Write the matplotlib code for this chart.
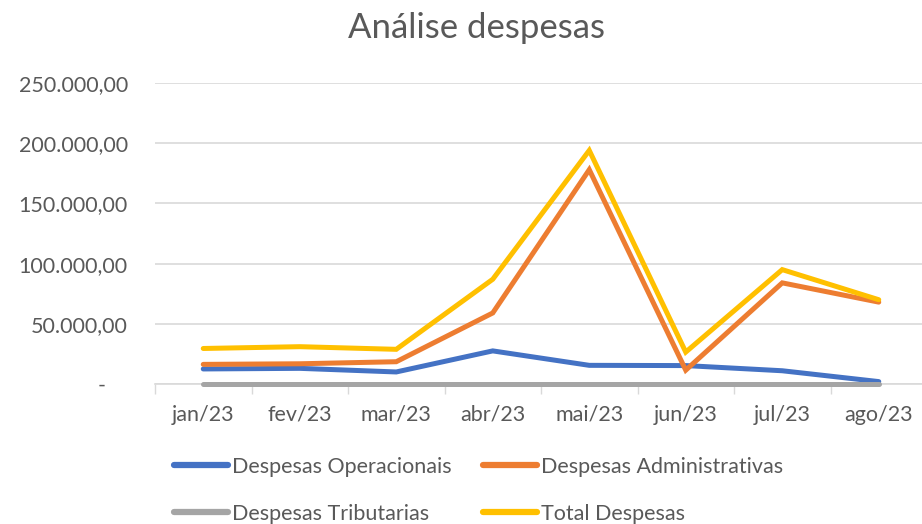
import matplotlib
matplotlib.use("Agg")
import matplotlib.pyplot as plt
from matplotlib.ticker import FuncFormatter, MultipleLocator

months = ["jan/23", "fev/23", "mar/23", "abr/23", "mai/23", "jun/23", "jul/23", "ago/23"]
operacionais = [12500, 13000, 10000, 27500, 15500, 15300, 11000, 2000]
administrativas = [16300, 16800, 18500, 59000, 178000, 11500, 84000, 68000]
tributarias = [400, 400, 400, 400, 400, 400, 400, 400]
total = [29500, 31000, 28800, 87000, 194000, 26500, 95000, 70000]

series = [
    ("Despesas Operacionais", operacionais, "#4472C4"),
    ("Despesas Administrativas", administrativas, "#ED7D31"),
    ("Despesas Tributarias", tributarias, "#A5A5A5"),
    ("Total Despesas", total, "#FFC000"),
]

plt.rcParams['font.family'] = ['Lato', 'DejaVu Sans']
W, H = 922, 524
fig = plt.figure(figsize=(W / 100, H / 100), dpi=100)
left, right, top, bottom = 155, 927, 83, 384
ax = fig.add_axes([left / W, 1 - bottom / H, (right - left) / W, (bottom - top) / H])

x = [i + 0.5 for i in range(len(months))]
handles = {}
for label, vals, color in series:
    ln, = ax.plot(x, vals, color=color, lw=3.6, label=label, solid_capstyle="round",
                  solid_joinstyle="miter", clip_on=False, zorder=3)
    handles[label] = ln

ax.set_xlim(0, len(months))
ax.set_ylim(0, 250000)
ax.yaxis.set_major_locator(MultipleLocator(50000))

def fmt(v, pos):
    if v == 0:
        return "-    "
    s = f"{v:,.2f}"
    return s.replace(",", "X").replace(".", ",").replace("X", ".")

FS = 15.5
ax.yaxis.set_major_formatter(FuncFormatter(fmt))
ax.set_xticks(x)
ax.set_xticklabels(months)
ax.set_xticks(range(len(months) + 1), minor=True)
ax.tick_params(axis="x", which="major", length=0, pad=15, labelsize=FS, colors="#595959")
ax.tick_params(axis="x", which="minor", length=7, color="#D9D9D9", width=1)
ax.tick_params(axis="y", length=0, pad=19.5, labelsize=FS, labelcolor="#595959")

ax.grid(axis="y", color="#D9D9D9", lw=1.2)
ax.set_axisbelow(True)
for s in ["top", "right", "left"]:
    ax.spines[s].set_visible(False)
ax.spines["bottom"].set_color("#D9D9D9")
ax.spines["bottom"].set_linewidth(1.2)

fig.text(476 / W, 1 - 28 / H, "Análise despesas", ha="center", va="center",
         fontsize=25, color="#595959")

order = ["Despesas Operacionais", "Despesas Tributarias",
         "Despesas Administrativas", "Total Despesas"]
leg = fig.legend([handles[k] for k in order], order,
                 loc="upper left", bbox_to_anchor=(174 / W, 1 - 457 / H), ncol=2,
                 frameon=False, fontsize=FS, handlelength=2.5, handletextpad=0.2,
                 columnspacing=1.45, labelspacing=1.25, borderpad=0, borderaxespad=0)
for t in leg.get_texts():
    t.set_color("#595959")
for h in leg.get_lines():
    h.set_linewidth(4.5)

fig.savefig("out.png", dpi=100)
